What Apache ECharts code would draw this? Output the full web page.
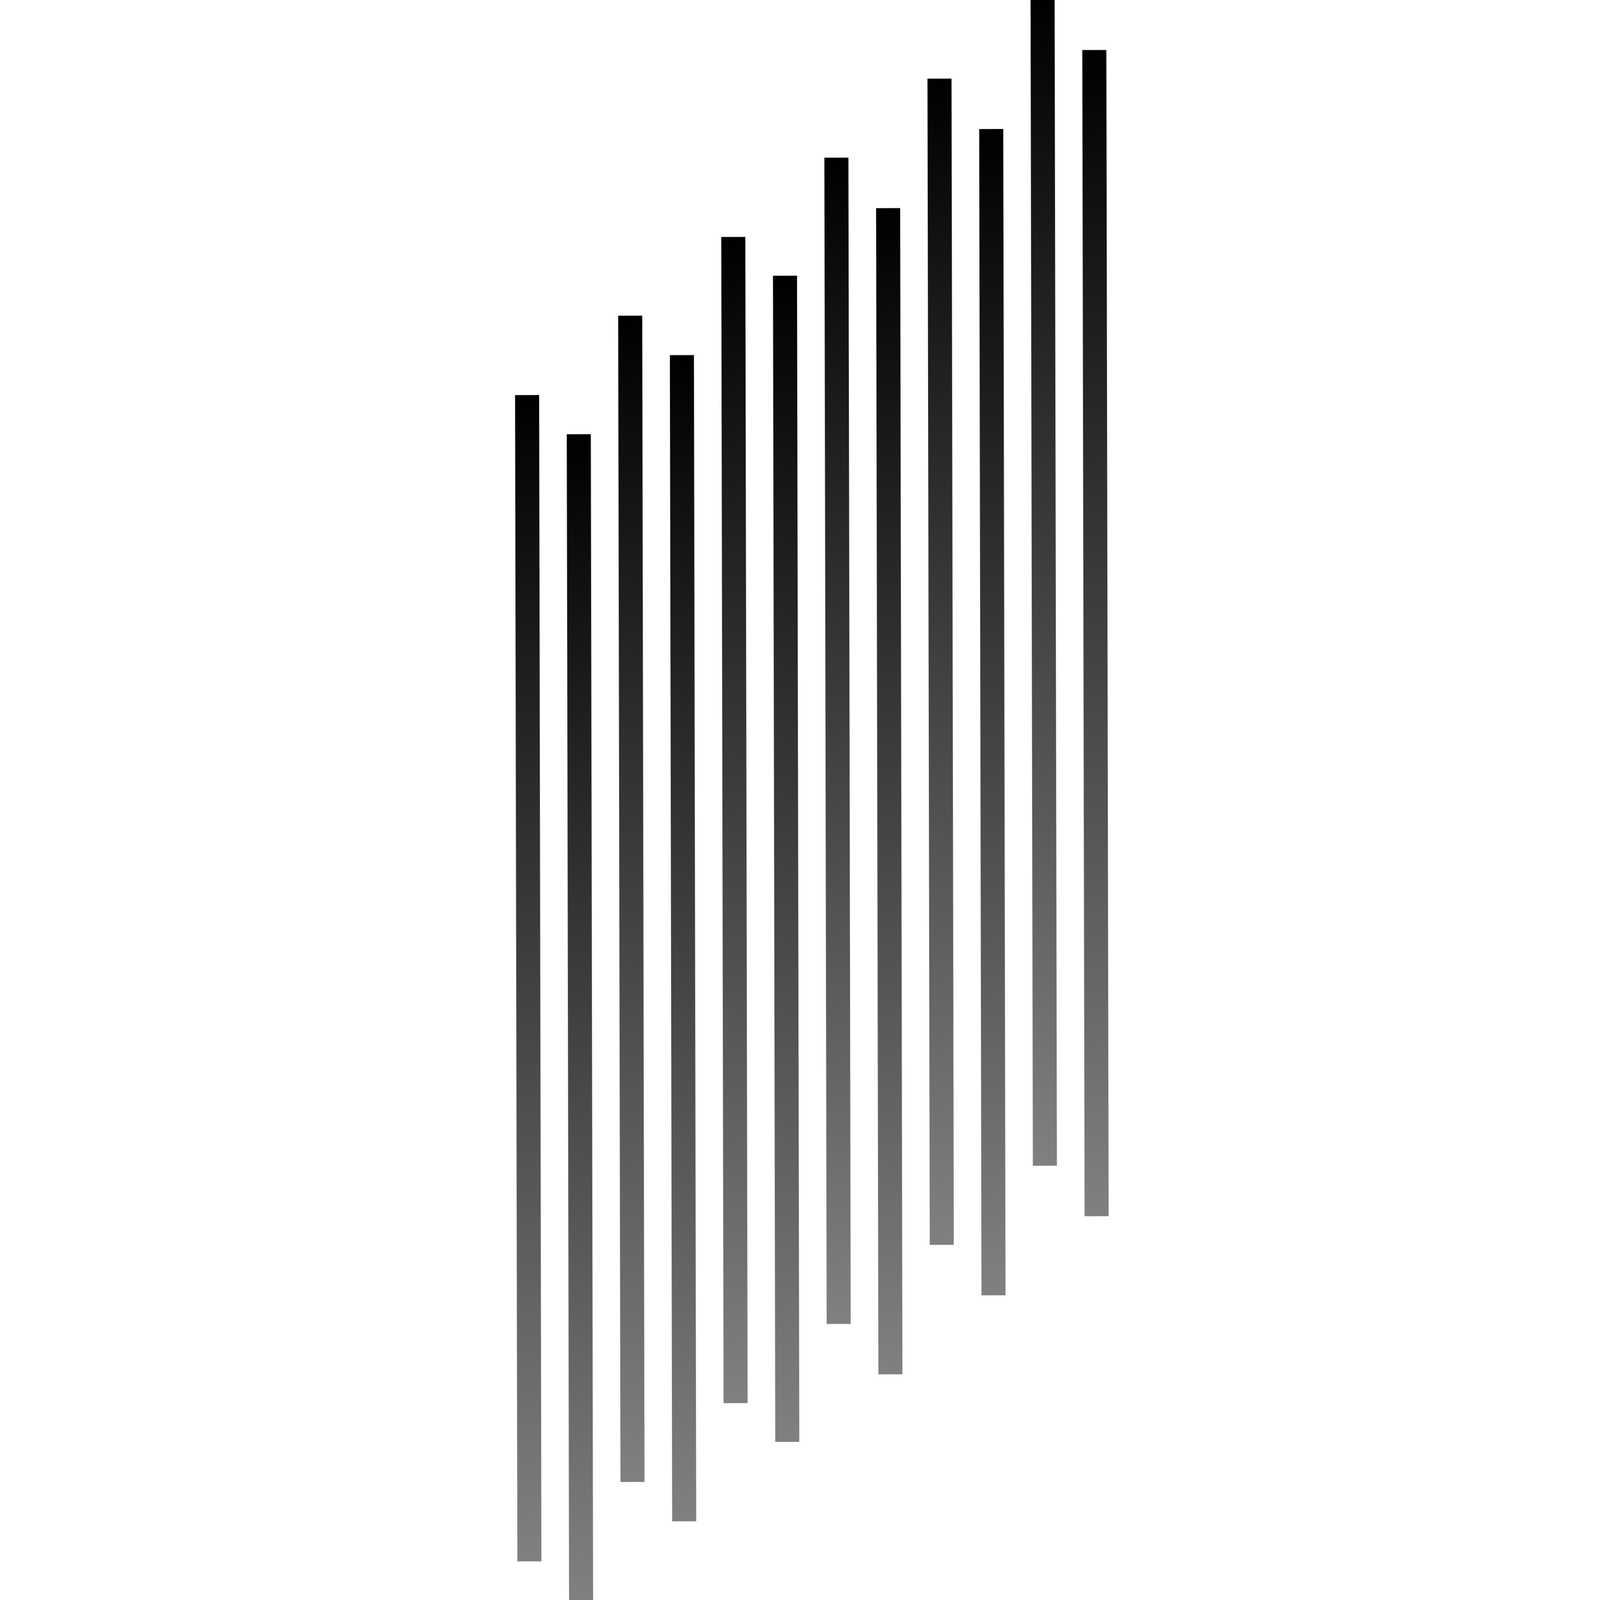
<!DOCTYPE html>
<html>
<head>
<meta charset="utf-8">
<script src="https://cdn.jsdelivr.net/npm/echarts@6/dist/echarts.min.js"></script>
<style>
  html, body { margin: 0; padding: 0; background: #ffffff; overflow: hidden; width: 100%; height: 100%; }
  #chart { position: absolute; left: 0; top: 0; width: 100vw; height: 100vh; transform: rotate(-0.1123deg); transform-origin: 50% 50%; }
</style>
</head>
<body>
<div id="chart"></div>
<script>
// Categories (no labels are shown in the reference)
const categories = ['1', '2', '3', '4', '5', '6', '7', '8', '9', '10', '11', '12'];
// Bottom (start) of each floating bar
const lows  = [2.45, 0.00, 7.40, 4.93, 12.31, 9.88, 17.25, 14.09, 22.18, 19.02, 27.11, 23.95];
// Top (end) of each floating bar
const highs = [75.34, 72.89, 80.29, 77.82, 85.20, 82.77, 90.14, 86.98, 95.07, 91.91, 100.00, 96.84];

const spans = highs.map((h, i) => +(h - lows[i]).toFixed(2));

const chart = echarts.init(document.getElementById('chart'), null, { renderer: 'canvas' });

chart.setOption({
  animation: false,
  backgroundColor: '#ffffff',
  grid: { left: '31.38%', right: '29.90%', top: 0, bottom: 0, containLabel: false },
  xAxis: {
    type: 'category',
    data: categories,
    show: false
  },
  yAxis: {
    type: 'value',
    min: 0,
    max: 100,
    show: false
  },
  series: [
    {
      name: 'base',
      type: 'bar',
      stack: 'range',
      barWidth: '46.6%',
      silent: true,
      itemStyle: { color: 'rgba(0,0,0,0)' },
      data: lows
    },
    {
      name: 'range',
      type: 'bar',
      stack: 'range',
      barWidth: '46.6%',
      itemStyle: {
        color: new echarts.graphic.LinearGradient(0, 0, 0, 1, [
          { offset: 0, color: '#000000' },
          { offset: 1, color: '#808080' }
        ])
      },
      data: spans
    }
  ]
});
window.addEventListener('resize', () => chart.resize());
</script>
</body>
</html>
